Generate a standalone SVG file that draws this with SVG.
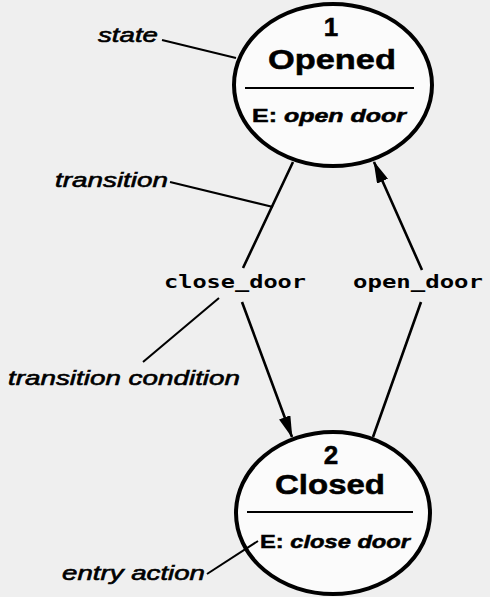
<svg xmlns="http://www.w3.org/2000/svg" width="490" height="597" viewBox="0 0 490 597">
  <style>
    .bg { fill: #efefef; }
    .state { fill: #fbfbfb; stroke: #000; stroke-width: 4; }
    .divider { stroke: #000; stroke-width: 2.2; }
    .num, .name, .entry { font-family: "Liberation Sans", Arial, sans-serif; font-weight: bold; fill: #000; text-anchor: middle; stroke: #000; stroke-width: 0.5; }
    .num { font-size: 26px; }
    .name { font-size: 28px; }
    .entry { font-size: 19px; }
    .it { font-style: italic; }
    .conn { fill: none; stroke: #000; stroke-width: 2.6; }
    .cond { font-family: "DejaVu Sans Mono", "Liberation Mono", monospace; font-weight: bold; font-size: 18px; fill: #000; text-anchor: middle; }
    .note { font-family: "Liberation Sans", Arial, sans-serif; font-style: italic; font-size: 21px; fill: #000; stroke: #000; stroke-width: 0.6; }
    .leader { fill: none; stroke: #000; stroke-width: 2; }
  </style>
  <defs>
    <marker id="ah" viewBox="0 0 22 12" refX="21" refY="6" markerWidth="22" markerHeight="12" orient="auto" markerUnits="userSpaceOnUse">
      <path d="M0,0 L22,6 L0,12 z" fill="#000"/>
    </marker>
  </defs>
  <rect class="bg" x="0" y="0" width="490" height="597"/>

  <g id="state1">
    <ellipse class="state" cx="333" cy="85" rx="99" ry="81"/>
    <text class="num" x="331" y="36">1</text>
    <text class="name" x="332" y="69" textLength="128" lengthAdjust="spacingAndGlyphs">Opened</text>
    <line class="divider" x1="245" y1="88" x2="414" y2="88"/>
    <text class="entry" x="329" y="122" textLength="154" lengthAdjust="spacingAndGlyphs">E: <tspan class="it">open door</tspan></text>
  </g>

  <g id="state2">
    <ellipse class="state" cx="333" cy="513" rx="97" ry="81"/>
    <text class="num" x="331" y="464">2</text>
    <text class="name" x="330" y="494" textLength="110" lengthAdjust="spacingAndGlyphs">Closed</text>
    <line class="divider" x1="247" y1="512" x2="413" y2="512"/>
    <text class="entry" x="335" y="548" textLength="150" lengthAdjust="spacingAndGlyphs">E: <tspan class="it">close door</tspan></text>
  </g>

  <g id="connectors">
    <path class="conn" d="M293,162 L243,268 M242,302 L292,437" marker-end="url(#ah)"/>
    <text class="cond" x="235" y="288" textLength="142" lengthAdjust="spacingAndGlyphs">close_door</text>
    <path class="conn" d="M373,437 L421,302 M422,270 L374,162" marker-end="url(#ah)"/>
    <text class="cond" x="418" y="288" textLength="130" lengthAdjust="spacingAndGlyphs">open_door</text>
  </g>

  <g id="annotations">
    <text class="note" x="98" y="42" textLength="60" lengthAdjust="spacingAndGlyphs">state</text>
    <line class="leader" x1="162" y1="40" x2="236" y2="58"/>
    <text class="note" x="55" y="187" textLength="113" lengthAdjust="spacingAndGlyphs">transition</text>
    <line class="leader" x1="170" y1="182" x2="273" y2="207"/>
    <text class="note" x="8" y="385" textLength="232" lengthAdjust="spacingAndGlyphs">transition condition</text>
    <line class="leader" x1="143" y1="362" x2="219" y2="298"/>
    <text class="note" x="62" y="580" textLength="143" lengthAdjust="spacingAndGlyphs">entry action</text>
    <line class="leader" x1="207" y1="574" x2="258" y2="541"/>
  </g>
</svg>
